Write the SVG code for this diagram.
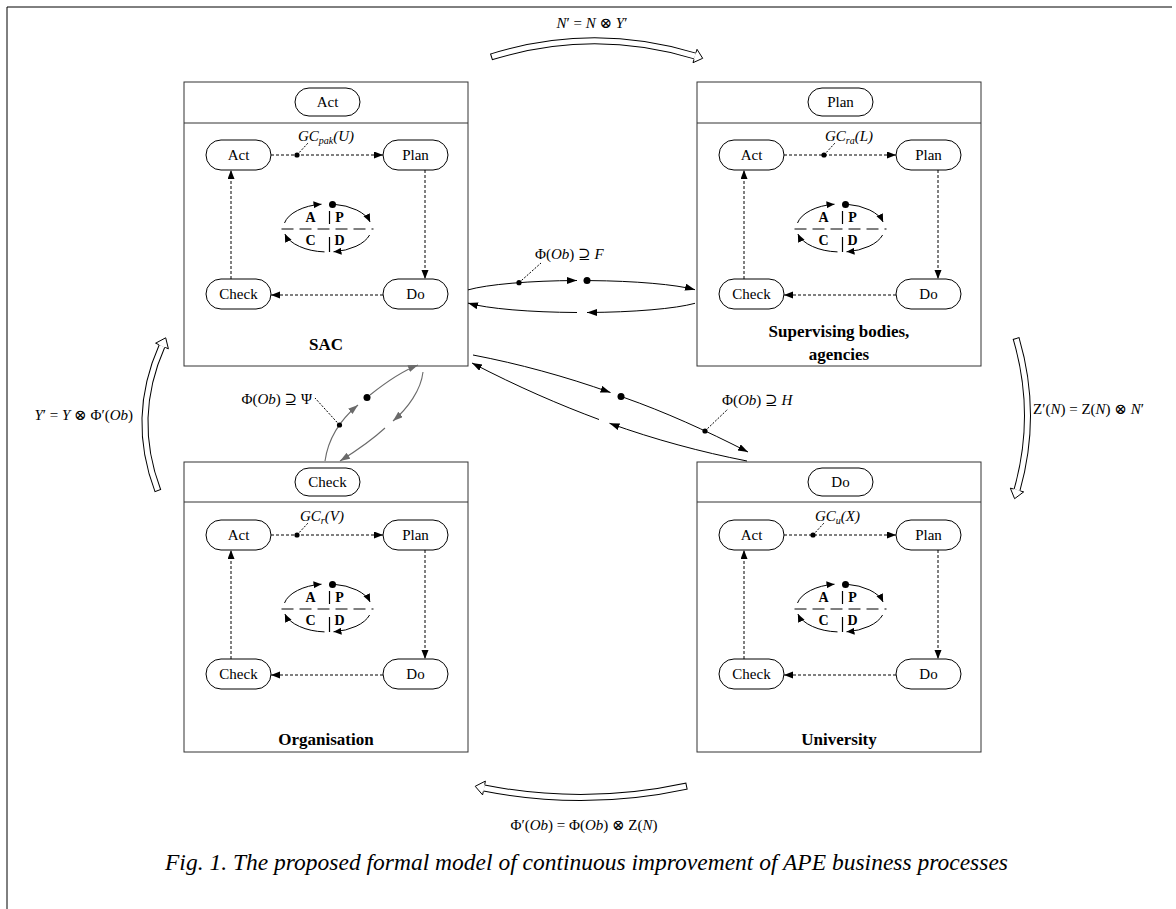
<svg xmlns="http://www.w3.org/2000/svg" xmlns:xlink="http://www.w3.org/1999/xlink" width="1176" height="909" viewBox="0 0 1176 909">
<style>
.bg{fill:#fff}
.frame{stroke:#000;stroke-width:1;fill:none}
.box{fill:#fff;stroke:#333;stroke-width:1}
.sep{stroke:#333;stroke-width:1}
.pill{fill:#fff;stroke:#000;stroke-width:1}
.lbl{font-family:"Liberation Serif","Times New Roman",serif;font-size:15px;text-anchor:middle;fill:#000}
.bl{font-family:"Liberation Serif","Times New Roman",serif;font-size:17px;font-weight:bold;text-anchor:middle;fill:#000}
.pd{font-family:"Liberation Serif","Times New Roman",serif;font-size:14px;font-weight:bold;text-anchor:middle;fill:#000}
.gc{font-family:"Liberation Serif","Times New Roman",serif;font-size:15px;font-style:italic;fill:#000}
.m{font-family:"Liberation Serif","DejaVu Serif",serif;font-size:15px;fill:#000}
.i{font-style:italic}
.dash{stroke:#000;stroke-width:1;stroke-dasharray:3 2;fill:none}
.lead{stroke:#000;stroke-width:1;stroke-dasharray:2 1.5;fill:none}
.conn{stroke:#000;stroke-width:1;fill:none}
.gray{stroke:#6a6a6a;stroke-width:1.1;fill:none}
.cyc{stroke:#000;stroke-width:1;fill:none}
.hs{stroke:#000;stroke-width:7;fill:none}
.hw{stroke:#fff;stroke-width:5;fill:none;stroke-dasharray:0 1 3000}
.hh{fill:#fff;stroke:#000;stroke-width:1;stroke-linejoin:miter}
.cap{font-family:"Liberation Serif","Times New Roman",serif;font-size:23px;font-style:italic;fill:#000}
</style>
<defs>
<marker id="ahd" markerWidth="10" markerHeight="8" refX="9" refY="3.5" orient="auto" markerUnits="userSpaceOnUse"><path d="M0,0 L9,3.5 L0,7 Z" fill="#000"/></marker>
<marker id="ahs" markerWidth="10" markerHeight="8" refX="8" refY="3.5" orient="auto" markerUnits="userSpaceOnUse"><path d="M0,0 L8,3.5 L0,7 Z" fill="#000"/></marker>
<marker id="ahc" markerWidth="12" markerHeight="8" refX="10" refY="3.5" orient="auto" markerUnits="userSpaceOnUse"><path d="M0,0 L10,3.5 L0,7 Z" fill="#000"/></marker>
<marker id="ahg" markerWidth="12" markerHeight="8" refX="10" refY="3.5" orient="auto" markerUnits="userSpaceOnUse"><path d="M0,0 L10,3.5 L0,7 Z" fill="#6a6a6a"/></marker>
<g id="pdca">
<path class="cyc" d="M -43 -5 A 44 24 0 0 1 -6 -23.8" marker-end="url(#ahs)"/>
<path class="cyc" d="M 6 -23.8 A 44 24 0 0 1 42.6 -6" marker-end="url(#ahs)"/>
<path class="cyc" d="M 42.1 7 A 44 24 0 0 1 6 23.8" marker-end="url(#ahs)"/>
<path class="cyc" d="M -3 23.9 A 44 24 0 0 1 -42.6 6" marker-end="url(#ahs)"/>
<line x1="-46" y1="1" x2="46" y2="1" stroke="#000" stroke-width="1" stroke-dasharray="12 6"/>
<line x1="2" y1="-17" x2="2" y2="-4" stroke="#000" stroke-width="1.2"/>
<line x1="2" y1="9" x2="2" y2="24" stroke="#000" stroke-width="1.2"/>
<circle cx="5" cy="-23.5" r="3.5" fill="#000"/>
<text class="pd" x="-17" y="-6">A</text>
<text class="pd" x="12" y="-6">P</text>
<text class="pd" x="-17" y="17">C</text>
<text class="pd" x="12" y="17">D</text>
</g>
</defs>
<rect class="bg" x="0" y="0" width="1176" height="909"/>
<path class="frame" d="M 7 909 L 7 7 L 1172 7"/>

<g id="node-sac" transform="translate(184,82)">
<rect class="box" x="0" y="0" width="284" height="284"/>
<line class="sep" x1="0" y1="41" x2="284" y2="41"/>
<rect class="pill" x="111" y="6" width="65" height="28" rx="14"/>
<text class="lbl" x="143.5" y="25">Act</text>
<rect class="pill" x="22" y="58" width="65" height="30" rx="15"/>
<text class="lbl" x="54.5" y="78">Act</text>
<rect class="pill" x="199" y="58" width="65" height="30" rx="15"/>
<text class="lbl" x="231.5" y="78">Plan</text>
<rect class="pill" x="22" y="197" width="65" height="30" rx="15"/>
<text class="lbl" x="54.5" y="217">Check</text>
<rect class="pill" x="199" y="197" width="65" height="30" rx="15"/>
<text class="lbl" x="231.5" y="217">Do</text>
<line class="dash" x1="87" y1="73" x2="199" y2="73" marker-end="url(#ahd)"/>
<line class="dash" x1="241" y1="88" x2="241" y2="197" marker-end="url(#ahd)"/>
<line class="dash" x1="199" y1="213" x2="87" y2="213" marker-end="url(#ahd)"/>
<line class="dash" x1="47" y1="197" x2="47" y2="88" marker-end="url(#ahd)"/>
<circle cx="113" cy="73" r="2.6" fill="#000"/>
<line class="lead" x1="113" y1="73" x2="124" y2="61"/>
<text class="gc" x="114" y="59">GC<tspan font-size="10" dy="3">pak</tspan><tspan dy="-3">(U)</tspan></text>
<use href="#pdca" x="143.5" y="146"/>
<text class="bl" x="142" y="268">SAC</text>
</g>

<g id="node-supervising" transform="translate(697,82)">
<rect class="box" x="0" y="0" width="284" height="284"/>
<line class="sep" x1="0" y1="41" x2="284" y2="41"/>
<rect class="pill" x="111" y="6" width="65" height="28" rx="14"/>
<text class="lbl" x="143.5" y="25">Plan</text>
<rect class="pill" x="22" y="58" width="65" height="30" rx="15"/>
<text class="lbl" x="54.5" y="78">Act</text>
<rect class="pill" x="199" y="58" width="65" height="30" rx="15"/>
<text class="lbl" x="231.5" y="78">Plan</text>
<rect class="pill" x="22" y="197" width="65" height="30" rx="15"/>
<text class="lbl" x="54.5" y="217">Check</text>
<rect class="pill" x="199" y="197" width="65" height="30" rx="15"/>
<text class="lbl" x="231.5" y="217">Do</text>
<line class="dash" x1="87" y1="73" x2="199" y2="73" marker-end="url(#ahd)"/>
<line class="dash" x1="241" y1="88" x2="241" y2="197" marker-end="url(#ahd)"/>
<line class="dash" x1="199" y1="213" x2="87" y2="213" marker-end="url(#ahd)"/>
<line class="dash" x1="47" y1="197" x2="47" y2="88" marker-end="url(#ahd)"/>
<circle cx="127" cy="73" r="2.6" fill="#000"/>
<line class="lead" x1="127" y1="73" x2="138" y2="61"/>
<text class="gc" x="128" y="59">GC<tspan font-size="10" dy="3">ra</tspan><tspan dy="-3">(L)</tspan></text>
<use href="#pdca" x="143.5" y="146"/>
<text class="bl" x="142" y="255">Supervising bodies,</text>
<text class="bl" x="142" y="278">agencies</text>
</g>

<g id="node-organisation" transform="translate(184,462)">
<rect class="box" x="0" y="0" width="284" height="290"/>
<line class="sep" x1="0" y1="40" x2="284" y2="40"/>
<rect class="pill" x="111" y="6" width="65" height="28" rx="14"/>
<text class="lbl" x="143.5" y="25">Check</text>
<rect class="pill" x="22" y="58" width="65" height="30" rx="15"/>
<text class="lbl" x="54.5" y="78">Act</text>
<rect class="pill" x="199" y="58" width="65" height="30" rx="15"/>
<text class="lbl" x="231.5" y="78">Plan</text>
<rect class="pill" x="22" y="197" width="65" height="30" rx="15"/>
<text class="lbl" x="54.5" y="217">Check</text>
<rect class="pill" x="199" y="197" width="65" height="30" rx="15"/>
<text class="lbl" x="231.5" y="217">Do</text>
<line class="dash" x1="87" y1="73" x2="199" y2="73" marker-end="url(#ahd)"/>
<line class="dash" x1="241" y1="88" x2="241" y2="197" marker-end="url(#ahd)"/>
<line class="dash" x1="199" y1="213" x2="87" y2="213" marker-end="url(#ahd)"/>
<line class="dash" x1="47" y1="197" x2="47" y2="88" marker-end="url(#ahd)"/>
<circle cx="113" cy="73" r="2.6" fill="#000"/>
<line class="lead" x1="113" y1="73" x2="124" y2="61"/>
<text class="gc" x="116" y="59">GC<tspan font-size="10" dy="3">r</tspan><tspan dy="-3">(V)</tspan></text>
<use href="#pdca" x="143.5" y="146"/>
<text class="bl" x="142" y="283">Organisation</text>
</g>

<g id="node-university" transform="translate(697,462)">
<rect class="box" x="0" y="0" width="284" height="290"/>
<line class="sep" x1="0" y1="40" x2="284" y2="40"/>
<rect class="pill" x="111" y="6" width="65" height="28" rx="14"/>
<text class="lbl" x="143.5" y="25">Do</text>
<rect class="pill" x="22" y="58" width="65" height="30" rx="15"/>
<text class="lbl" x="54.5" y="78">Act</text>
<rect class="pill" x="199" y="58" width="65" height="30" rx="15"/>
<text class="lbl" x="231.5" y="78">Plan</text>
<rect class="pill" x="22" y="197" width="65" height="30" rx="15"/>
<text class="lbl" x="54.5" y="217">Check</text>
<rect class="pill" x="199" y="197" width="65" height="30" rx="15"/>
<text class="lbl" x="231.5" y="217">Do</text>
<line class="dash" x1="87" y1="73" x2="199" y2="73" marker-end="url(#ahd)"/>
<line class="dash" x1="241" y1="88" x2="241" y2="197" marker-end="url(#ahd)"/>
<line class="dash" x1="199" y1="213" x2="87" y2="213" marker-end="url(#ahd)"/>
<line class="dash" x1="47" y1="197" x2="47" y2="88" marker-end="url(#ahd)"/>
<circle cx="116" cy="73" r="2.6" fill="#000"/>
<line class="lead" x1="116" y1="73" x2="127" y2="61"/>
<text class="gc" x="118" y="59">GC<tspan font-size="10" dy="3">u</tspan><tspan dy="-3">(X)</tspan></text>
<use href="#pdca" x="143.5" y="146"/>
<text class="bl" x="142" y="283">University</text>
</g>

<g id="connectors">
<path class="conn" d="M 468 289.9 A 125 16 0 0 1 577 280.5" marker-end="url(#ahc)"/>
<circle cx="587" cy="280.6" r="3.5" fill="#000"/>
<path class="conn" d="M 590 280.6 A 125 16 0 0 1 695 289.7" marker-end="url(#ahc)"/>
<path class="conn" d="M 695 303.3 A 125 16 0 0 1 587 312.5" marker-end="url(#ahc)"/>
<path class="conn" d="M 577 312.5 A 125 16 0 0 1 468 303.1" marker-end="url(#ahc)"/>
<circle cx="519" cy="282.7" r="2.6" fill="#000"/>
<line class="lead" x1="519" y1="282.7" x2="541" y2="263"/>
<text class="m" x="535" y="259">Φ(<tspan class="i">Ob</tspan>) ⊇ <tspan class="i">F</tspan></text>

<path class="conn" d="M 473 355 C 518.85 363.8 564.7 376.3 610.5 392.5" marker-end="url(#ahc)"/>
<circle cx="621" cy="396.5" r="3.5" fill="#000"/>
<path class="conn" d="M 624 397.5 C 665 412 705 430 748 452" marker-end="url(#ahc)"/>
<circle cx="705" cy="431" r="2.6" fill="#000"/>
<line class="lead" x1="705" y1="431" x2="728" y2="409"/>
<text class="m" x="722" y="405">Φ(<tspan class="i">Ob</tspan>) ⊇ <tspan class="i">H</tspan></text>
<path class="conn" d="M 747 461 C 701 452 655 439.6 609.5 423.3" marker-end="url(#ahc)"/>
<path class="conn" d="M 599 419.5 C 560 405 517.85 386.85 472 363" marker-end="url(#ahc)"/>

<path class="gray" d="M 325 461 C 328 440 340 420 358 405" marker-end="url(#ahg)"/>
<circle cx="367" cy="397.5" r="3.5" fill="#000"/>
<path class="gray" d="M 370 395 C 385 383 400 372 418 365" marker-end="url(#ahg)"/>
<path class="gray" d="M 423 372 C 421 390 408 408 393 421" marker-end="url(#ahg)"/>
<path class="gray" d="M 385 428 C 372 440 356 451 340 461" marker-end="url(#ahg)"/>
<circle cx="339.5" cy="425" r="2.6" fill="#000"/>
<line class="lead" x1="339.5" y1="425" x2="315" y2="398"/>
<text class="m" x="312" y="404" text-anchor="end">Φ(<tspan class="i">Ob</tspan>) ⊇ Ψ</text>

<path class="hs" d="M 491 57 Q 593 25 695 56"/>
<path class="hw" d="M 491 57 Q 593 25 695 56"/>
<path class="hh" d="M 694 59.35 L 693 62.7 L 702.7 58.3 L 697 49.3 L 696 52.65"/>
<text class="m" x="592" y="28" text-anchor="middle"><tspan class="i">N</tspan>′ = <tspan class="i">N</tspan> ⊗ <tspan class="i">Y</tspan>′</text>

<path class="hs" d="M 158 491 Q 130 418 162 346"/>
<path class="hw" d="M 158 491 Q 130 418 162 346"/>
<path class="hh" d="M 165.2 347.4 L 168.4 348.8 L 165.7 337.8 L 155.6 343.2 L 158.8 344.6"/>
<text class="m" x="133" y="420" text-anchor="end"><tspan class="i">Y</tspan>′ = <tspan class="i">Y</tspan> ⊗ Φ′(<tspan class="i">Ob</tspan>)</text>

<path class="hs" d="M 1016 338 Q 1038.5 414 1017 490"/>
<path class="hw" d="M 1016 338 Q 1038.5 414 1017 490"/>
<path class="hh" d="M 1020.4 491 L 1023.7 491.9 L 1014.6 498.7 L 1010.3 488.1 L 1013.6 489"/>
<text class="m" x="1033" y="414">Z′(<tspan class="i">N</tspan>) = Z(<tspan class="i">N</tspan>) ⊗ <tspan class="i">N</tspan>′</text>

<path class="hs" d="M 687 786 Q 585.5 808 484 788"/>
<path class="hw" d="M 687 786 Q 585.5 808 484 788"/>
<path class="hh" d="M 484.7 784.6 L 485.4 781.1 L 475.2 786.3 L 482.6 794.9 L 483.3 791.4"/>
<text class="m" x="584" y="830" text-anchor="middle">Φ′(<tspan class="i">Ob</tspan>) = Φ(<tspan class="i">Ob</tspan>) ⊗ Z(<tspan class="i">N</tspan>)</text>
</g>

<text class="cap" x="165" y="870" textLength="843" lengthAdjust="spacingAndGlyphs">Fig. 1. The proposed formal model of continuous improvement of APE business processes</text>
</svg>
